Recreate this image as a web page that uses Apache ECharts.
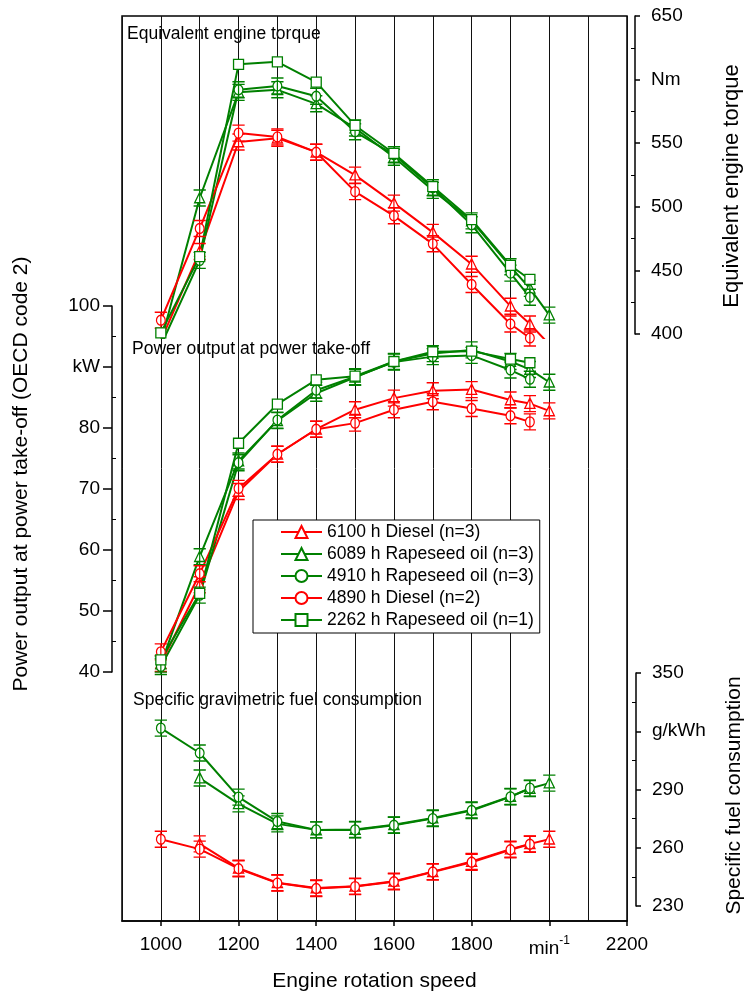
<!DOCTYPE html>
<html>
<head>
<meta charset="utf-8">
<script src="https://cdn.jsdelivr.net/npm/echarts@6/dist/echarts.min.js"></script>
<style>
  html, body { margin: 0; padding: 0; background: #fff; }
  #main { width: 744px; height: 994px; }
</style>
</head>
<body>
<div id="main"></div>
<script>
// engine speed, min-1
const rpm = [1000, 1100, 1200, 1300, 1400, 1500, 1600, 1700, 1800, 1900, 1950, 2000]
const seriesNames = [
  '6100 h Diesel (n=3)',
  '6089 h Rapeseed oil (n=3)',
  '4910 h Rapeseed oil (n=3)',
  '4890 h Diesel (n=2)',
  '2262 h Rapeseed oil (n=1)'
]

// equivalent engine torque, Nm
const torque6100Diesel   = [395, 465, 551, 554, 543, 525, 503, 480, 455, 422, 408, 392]
const torque6089Rapeseed = [394, 507, 590, 592, 581, 562, 539, 513, 489, 453, 436, 415]
const torque4910Rapeseed = [391, 458, 592, 595, 587, 559, 541, 515, 486, 448, 429, null]
const torque4890Diesel   = [411, 483, 558, 555, 543, 512, 493, 471, 439, 408, 397, null]
const torque2262Rapeseed = [401, 461, 612, 614, 598, 564, 542, 516, 490, 454, 443, null]

// power output at PTO, kW
const power6100Diesel   = [41.4, 54.3, 69.6, 75.7, 79.8, 83.0, 84.9, 86.1, 86.3, 84.6, 84.0, 82.8]
const power6089Rapeseed = [41.3, 58.9, 74.6, 81.2, 85.7, 88.3, 90.9, 92.2, 92.8, 90.9, 89.6, 87.5]
const power4910Rapeseed = [40.9, 52.6, 74.3, 81.3, 86.2, 88.4, 90.8, 91.7, 91.9, 89.5, 88.0, null]
const power4890Diesel   = [43.3, 56.1, 70.1, 75.7, 79.8, 80.8, 83.0, 84.3, 83.2, 82.0, 81.0, null]
const power2262Rapeseed = [42.0, 52.9, 77.5, 83.9, 87.9, 88.5, 90.9, 92.5, 92.6, 91.3, 90.7, null]

// specific fuel consumption, g/kWh
const fuel6100Diesel   = [null, 262.0, 249.5, 242.0, 239.3, 240.2, 242.8, 247.7, 252.9, 259.3, 262.0, 264.4]
const fuel6089Rapeseed = [null, 295.9, 282.6, 272.3, 269.2, 269.4, 271.8, 275.3, 279.5, 286.4, 290.5, 293.3]
const fuel4910Rapeseed = [321.6, 308.8, 286.1, 273.5, 269.2, 269.2, 271.6, 275.0, 279.2, 286.2, 290.7, null]
const fuel4890Diesel   = [264.4, 259.3, 249.2, 241.8, 239.0, 240.0, 242.5, 247.5, 252.5, 259.0, 261.8, null]

// tick labels
const xLabelValues = [1000, 1200, 1400, 1600, 1800, 2000, 2200]
const torqueTicks = [400, 450, 500, 550, 600, 650]
const powerTicks = [40, 50, 60, 70, 80, 90, 100]
const fuelTicks = [230, 260, 290, 320, 350]
const unitLabels = { torque: 600, power: 90, fuel: 320 }

const FONT = '"Liberation Sans", Arial, sans-serif'
const RED = '#ff0000'
const GREEN = '#008000'

// 标记 + 误差线 (marker with error bar caps)
const triErr = 'path://M0 0H14M0 16H14M7 0V16M7 2.4L1.2 12.8H12.8Z'
const circErr = 'path://M0 0H14M0 16H14M7 0V16M2 8A5 5 0 1 1 12 8A5 5 0 1 1 2 8Z'

const styleOf = [
  { color: RED, symbol: triErr, plain: 'triangle', size: [14, 16] },
  { color: GREEN, symbol: triErr, plain: 'triangle', size: [14, 16] },
  { color: GREEN, symbol: circErr, plain: 'circle', size: [14, 16] },
  { color: RED, symbol: circErr, plain: 'circle', size: [14, 16] },
  { color: GREEN, symbol: 'rect', plain: 'rect', size: 10 }
]

// axis index pairs [x, y] of each panel
const PANEL = { torque: [3, 2], power: [4, 3], fuel: [5, 4] }

function pairs(values) {
  return rpm.map((r, i) => [r, values[i]]).filter(p => p[1] != null)
}

function lineSeries(idx, values, panel) {
  const s = styleOf[idx]
  return {
    type: 'line',
    name: seriesNames[idx],
    xAxisIndex: panel[0],
    yAxisIndex: panel[1],
    data: pairs(values),
    symbol: s.symbol,
    symbolSize: s.size,
    symbolKeepAspect: true,
    showAllSymbol: true,
    lineStyle: { color: s.color, width: 2 },
    itemStyle: { color: '#fff', borderColor: s.color, borderWidth: 1.3 },
    emphasis: { disabled: true },
    animation: false
  }
}

// legend-only series so the legend shows plain symbols
const legendSeries = seriesNames.map((n, i) => ({
  type: 'line',
  name: n,
  xAxisIndex: 0,
  yAxisIndex: 0,
  data: [],
  symbol: styleOf[i].plain,
  lineStyle: { color: styleOf[i].color, width: 2 },
  itemStyle: { color: '#fff', borderColor: styleOf[i].color, borderWidth: 1.3 }
}))

const L = 122, W = 505

function gridAt(top, height, extra) {
  return Object.assign({ left: L, top, width: W, height, containLabel: false, outerBoundsMode: 'none' }, extra || {})
}

function hiddenX(gridIndex) {
  return { type: 'value', gridIndex, min: 900, max: 2200, show: false }
}

function labelFmt(unitAt, unit) {
  return v => (v === unitAt ? unit : String(v))
}

function visibleY(gridIndex, opt) {
  return {
    type: 'value',
    gridIndex,
    position: opt.position,
    offset: opt.offset,
    min: opt.min,
    max: opt.max,
    name: opt.name,
    nameLocation: 'middle',
    nameRotate: 90,
    nameGap: opt.nameGap,
    nameTextStyle: { fontSize: opt.nameSize, fontFamily: FONT, color: '#000', padding: opt.namePad },
    axisLine: { show: true, lineStyle: { color: '#000', width: 1.5 } },
    axisTick: { show: true, inside: false, length: opt.tickLen, customValues: opt.ticks, lineStyle: { color: '#000', width: 1.5 } },
    axisLabel: {
      show: true, customValues: opt.ticks, margin: opt.margin,
      fontSize: 19, fontFamily: FONT, color: '#000',
      formatter: labelFmt(opt.unitAt, opt.unit)
    },
    splitLine: { show: false }
  }
}

function minorY(gridIndex, opt) {
  const minors = opt.ticks.slice(1).map((t, i) => (t + opt.ticks[i]) / 2)
  return {
    type: 'value',
    gridIndex,
    position: opt.position,
    offset: opt.offset,
    min: opt.min,
    max: opt.max,
    axisLine: { show: false },
    axisTick: { show: true, inside: true, length: 4, customValues: minors, lineStyle: { color: '#000', width: 1 } },
    axisLabel: { show: false },
    splitLine: { show: false }
  }
}

const torqueAxis = {
  position: 'right', offset: 8, min: 400, max: 650, ticks: torqueTicks, unitAt: unitLabels.torque, unit: 'Nm',
  name: 'Equivalent engine torque', nameGap: 86, nameSize: 22, namePad: [0, 22, 0, 0], margin: 16, tickLen: 5
}
const powerAxis = {
  position: 'left', offset: 10, min: 40, max: 100, ticks: powerTicks, unitAt: unitLabels.power, unit: 'kW',
  name: 'Power output at power take-off (OECD code 2)', nameGap: 80, nameSize: 21, namePad: [0, 0, 0, 30], margin: 12, tickLen: 9
}
const fuelAxis = {
  position: 'right', offset: 9, min: 230, max: 350, ticks: fuelTicks, unitAt: unitLabels.fuel, unit: 'g/kWh',
  name: 'Specific fuel consumption', nameGap: 88, nameSize: 21, namePad: [0, 12, 0, 0], margin: 16, tickLen: 5
}

const option = {
  backgroundColor: '#fff',
  animation: false,
  textStyle: { fontFamily: FONT },
  grid: [
    gridAt(16, 905, { show: true, borderColor: '#000', borderWidth: 1.5, backgroundColor: 'transparent' }),
    gridAt(16, 318),   // torque axis
    gridAt(16, 322),   // torque data (clipped a bit below 400)
    gridAt(306, 366),  // power
    gridAt(673, 233)   // fuel
  ],
  xAxis: [
    {
      type: 'value', gridIndex: 0, min: 900, max: 2200, interval: 100,
      axisLine: { show: false }, axisTick: { show: false }, axisLabel: { show: false },
      splitLine: { show: true, lineStyle: { color: '#111', width: 1 } }
    },
    {
      type: 'value', gridIndex: 0, min: 900, max: 2200, position: 'bottom',
      name: 'Engine rotation speed', nameLocation: 'middle', nameGap: 50,
      nameTextStyle: { fontSize: 21, fontFamily: FONT, color: '#000' },
      axisLine: { show: true, lineStyle: { color: '#000', width: 1.5 } },
      axisTick: { show: true, length: 5, customValues: xLabelValues, lineStyle: { color: '#000', width: 1.5 } },
      axisLabel: {
        show: true, customValues: xLabelValues, margin: 14,
        fontSize: 19, fontFamily: FONT, color: '#000',
        formatter: v => (v === 2000 ? '{u|min}{s|-1}' : String(v)),
        rich: {
          u: { fontSize: 19, fontFamily: FONT, color: '#000', padding: [3, 0, 0, 0] },
          s: { fontSize: 12, fontFamily: FONT, color: '#000', padding: [0, 0, 12, 0] }
        }
      },
      splitLine: { show: false }
    },
    hiddenX(1), hiddenX(2), hiddenX(3), hiddenX(4)
  ],
  yAxis: [
    { type: 'value', gridIndex: 0, min: 0, max: 1, show: false },
    visibleY(1, torqueAxis),
    { type: 'value', gridIndex: 2, min: 397, max: 650, show: false },
    visibleY(3, powerAxis),
    visibleY(4, fuelAxis),
    minorY(4, fuelAxis),
    minorY(1, torqueAxis),
    minorY(3, powerAxis)
  ],
  legend: {
    left: 253, top: 520, orient: 'vertical',
    itemWidth: 41, itemHeight: 15, itemGap: 4,
    padding: [3, 6, 4, 27],
    borderColor: '#000', borderWidth: 1, backgroundColor: '#fff',
    selectedMode: false,
    textStyle: { fontSize: 17.5, fontFamily: FONT, color: '#000' },
    data: seriesNames
  },
  graphic: [
    { type: 'text', left: 127, top: 25, style: { text: 'Equivalent engine torque', font: '17.5px ' + FONT, fill: '#000' } },
    { type: 'text', left: 132, top: 340, style: { text: 'Power output at power take-off', font: '17.5px ' + FONT, fill: '#000' } },
    { type: 'text', left: 133, top: 691, style: { text: 'Specific gravimetric fuel consumption', font: '17.5px ' + FONT, fill: '#000' } }
  ],
  series: [
    ...legendSeries,
    lineSeries(0, torque6100Diesel, PANEL.torque),
    lineSeries(1, torque6089Rapeseed, PANEL.torque),
    lineSeries(2, torque4910Rapeseed, PANEL.torque),
    lineSeries(3, torque4890Diesel, PANEL.torque),
    lineSeries(4, torque2262Rapeseed, PANEL.torque),
    lineSeries(0, power6100Diesel, PANEL.power),
    lineSeries(1, power6089Rapeseed, PANEL.power),
    lineSeries(2, power4910Rapeseed, PANEL.power),
    lineSeries(3, power4890Diesel, PANEL.power),
    lineSeries(4, power2262Rapeseed, PANEL.power),
    lineSeries(0, fuel6100Diesel, PANEL.fuel),
    lineSeries(1, fuel6089Rapeseed, PANEL.fuel),
    lineSeries(2, fuel4910Rapeseed, PANEL.fuel),
    lineSeries(3, fuel4890Diesel, PANEL.fuel)
  ]
}

const chart = echarts.init(document.getElementById('main'))
chart.setOption(option)
</script>
</body>
</html>
